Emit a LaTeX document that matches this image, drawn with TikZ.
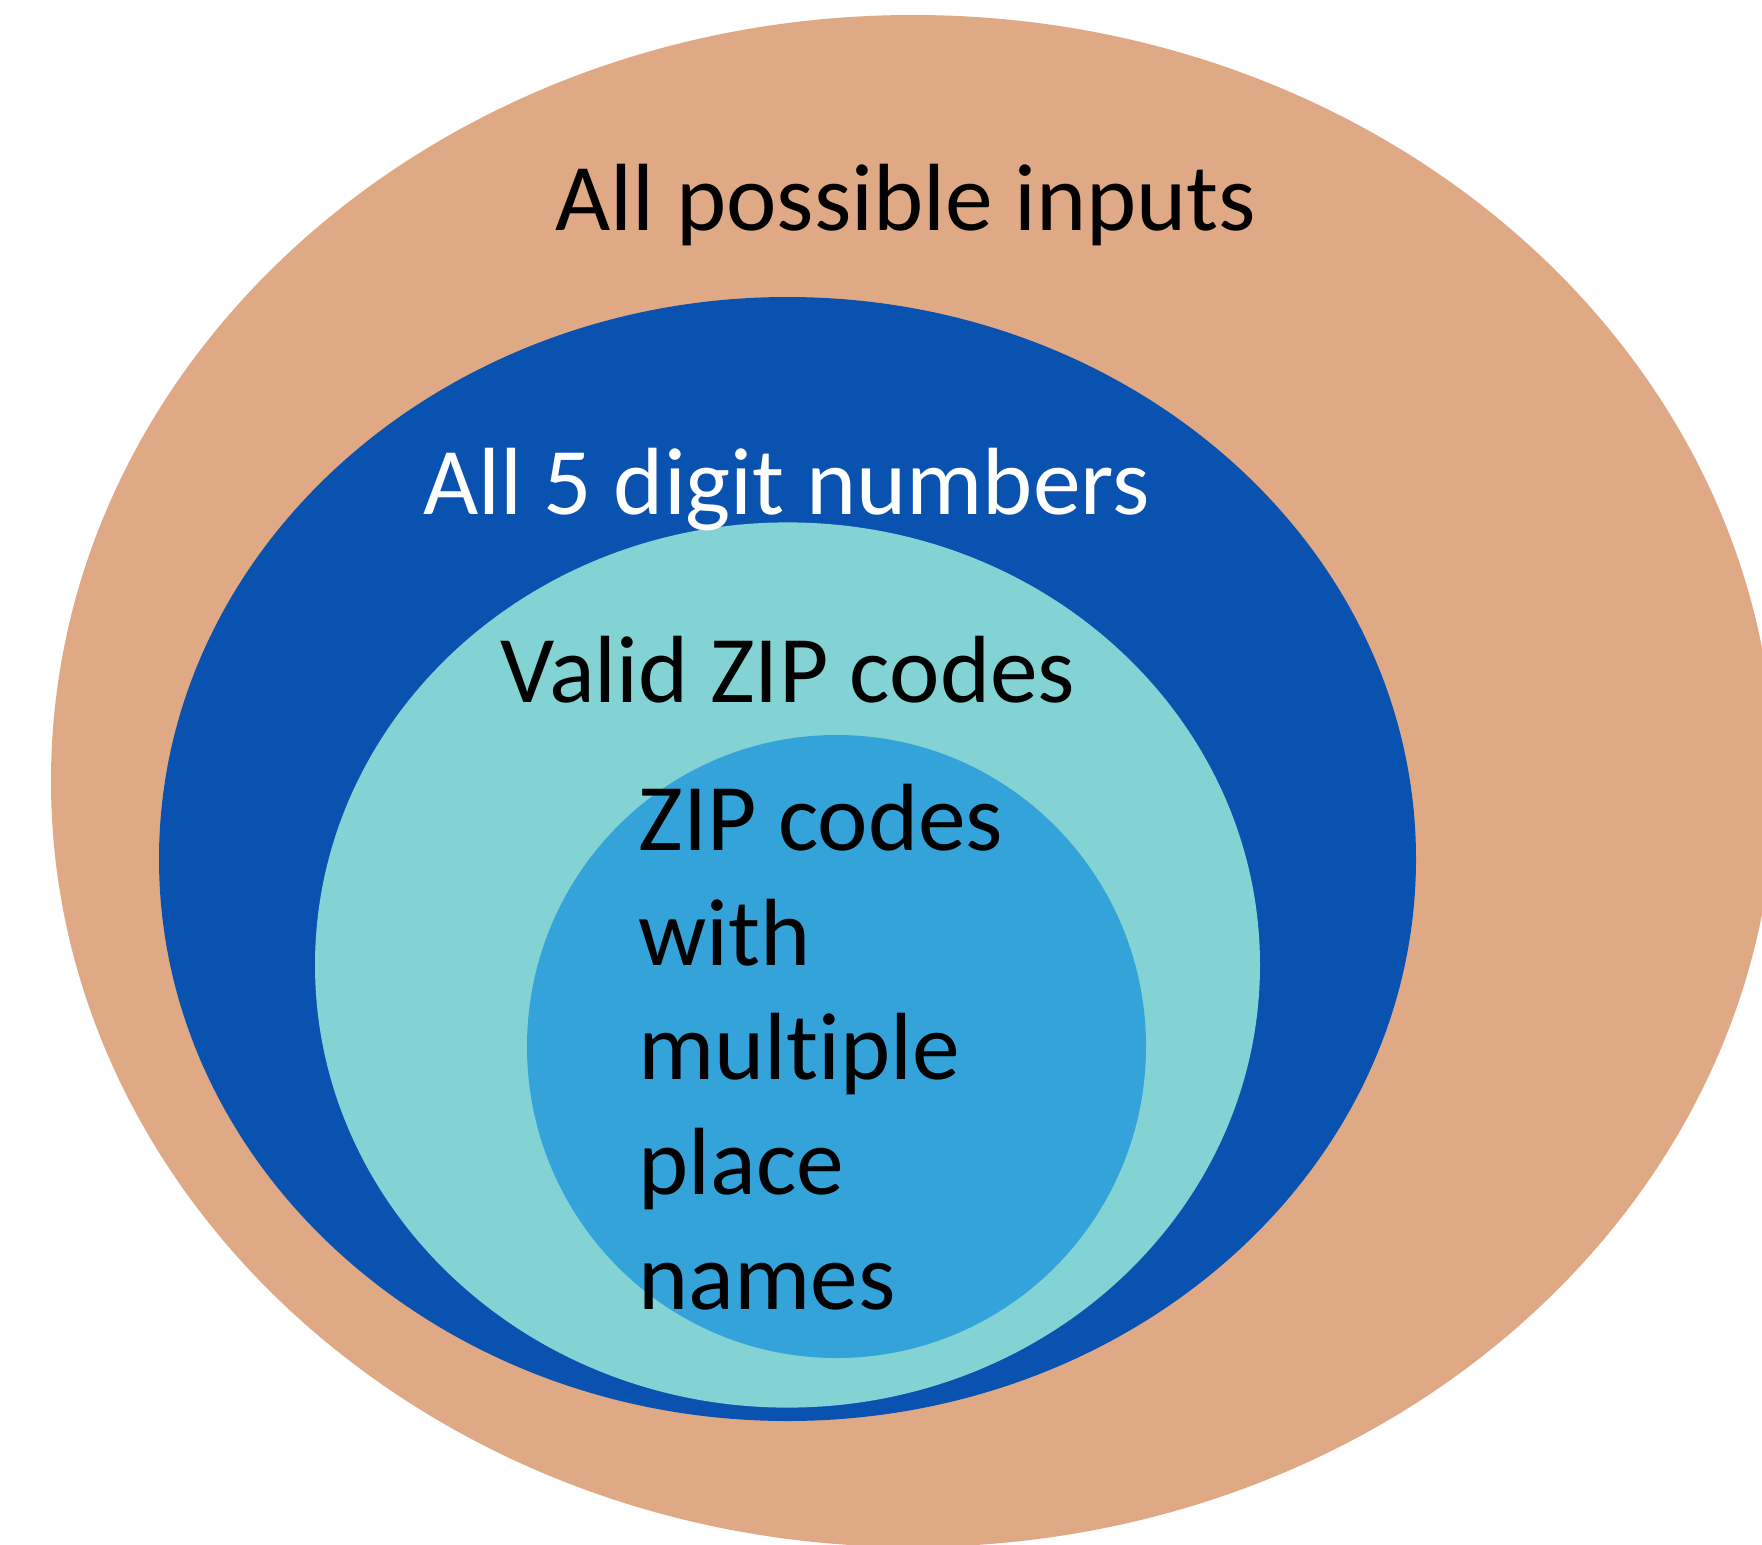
\documentclass[tikz,border=0pt]{standalone}
\usepackage{fontspec}
\setmainfont{Carlito}[Ligatures=NoCommon]
\definecolor{outerorange}{HTML}{DFA985}
\definecolor{deepblue}{HTML}{0A52B0}
\definecolor{paleteal}{HTML}{83D2D4}
\definecolor{skyblue}{HTML}{34A3DA}
\tikzset{
  lbl/.style={inner sep=0pt, font=\fontsize{95.5}{114.6}\selectfont},
}
\begin{document}
\begin{tikzpicture}[x=1pt,y=-1pt]
\useasboundingbox (0,0) rectangle (1762,1545);
\fill[white] (0,0) rectangle (1762,1545);
\clip (0,0) rectangle (1762,1545);
\fill[outerorange] (913,781) ellipse [x radius=862pt, y radius=766pt];
\fill[deepblue] (787.5,859) ellipse [x radius=628.5pt, y radius=562pt];
\fill[paleteal] (787.5,965) ellipse [x radius=472.5pt, y radius=442.6pt];
\fill[skyblue] (836.5,1046.5) ellipse [x radius=309.5pt, y radius=311.5pt];
\node[lbl, anchor=base, text=black] (allin) at (906,230) {All possible inputs};
\node[lbl, anchor=base, text=white] (fivedig) at (786.6,514.6) {All 5 digit numbers};
\node[lbl, anchor=base, text=black] (valid) at (787.7,702.3) {Valid ZIP codes};
\node[lbl, anchor=base west, text=black] (multi1) at (638.3,850.6) {ZIP codes};
\node[lbl, anchor=base west, text=black] (multi2) at (638.3,965.2) {with};
\node[lbl, anchor=base west, text=black] (multi3) at (638.3,1079.8) {multiple};
\node[lbl, anchor=base west, text=black] (multi4) at (638.3,1194.4) {place};
\node[lbl, anchor=base west, text=black] (multi5) at (638.3,1309) {names};
\end{tikzpicture}
\end{document}
